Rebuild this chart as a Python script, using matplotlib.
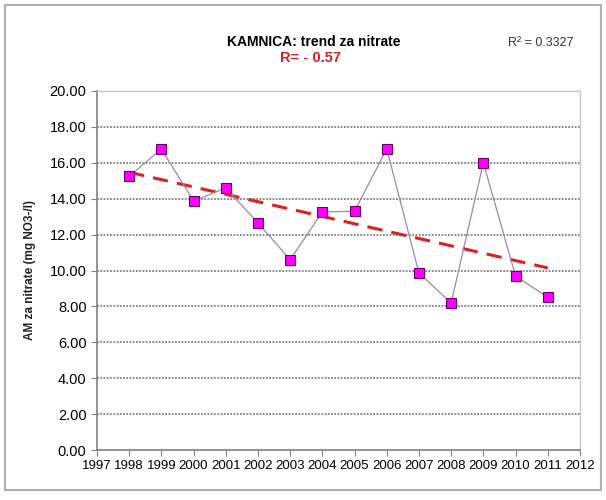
import numpy as np
import matplotlib
matplotlib.use('Agg')
import matplotlib.pyplot as plt
import matplotlib.patches as patches

plt.rcParams['font.family'] = ['Liberation Sans', 'DejaVu Sans']

# data
years = [1998, 1999, 2000, 2001, 2002, 2003, 2004, 2005, 2006, 2007, 2008, 2009, 2010, 2011]
nitrate = [15.25, 16.77, 13.87, 14.6, 12.65, 10.6, 13.26, 13.3, 16.77, 9.86, 8.19, 16.0, 9.7, 8.5]
x_ticks = list(range(1997, 2013))
y_ticks = [0, 2, 4, 6, 8, 10, 12, 14, 16, 18, 20]

title = 'KAMNICA: trend za nitrate'
r_label = 'R= - 0.57'
r2_label = 'R² = 0.3327'
y_label = 'AM za nitrate (mg NO3-/l)'

fig = plt.figure(figsize=(6.06, 5.0), dpi=100)
ax = fig.add_axes([0.160, 0.100, 0.797, 0.718])

# outer chart frame
fig.patches.append(patches.Rectangle((0.008, 0.02), 0.984, 0.97, transform=fig.transFigure,
                                     fill=False, edgecolor='#b0b0b0', linewidth=1.5))

# gridlines
for y in y_ticks[1:]:
    ax.axhline(y, color='#808080', linestyle=(0, (1, 0.8)), linewidth=1.3, zorder=1)

# data series
ax.plot(years, nitrate, color='#9a8aa6', linewidth=0.9, zorder=3,
        marker='s', markersize=7.5, markerfacecolor='#ff00ff',
        markeredgecolor='#660066', markeredgewidth=0.8)

# linear trend
coef = np.polyfit(years, nitrate, 1)
trend_x = np.array([years[0], years[-1]])
ax.plot(trend_x, np.polyval(coef, trend_x), color='#e02020', linestyle=(0, (5, 3)),
        linewidth=2.2, zorder=2)

ax.set_xlim(1997, 2012)
ax.set_ylim(0, 20)
ax.set_xticks(x_ticks)
ax.set_yticks(y_ticks)
ax.set_yticklabels(['%.2f' % v for v in y_ticks])
ax.tick_params(axis='y', labelsize=10.5, direction='out', length=4, color='#808080')
ax.tick_params(axis='x', labelsize=9.5, direction='out', length=4, color='#808080', pad=3)
for side in ['left', 'bottom']:
    ax.spines[side].set_color('#808080')
    ax.spines[side].set_linewidth(1.2)
for side in ['top', 'right']:
    ax.spines[side].set_color('#c8c8c8')
    ax.spines[side].set_linewidth(1.0)

ax.set_ylabel(y_label, fontsize=8.5, fontweight='bold', color='#222222', labelpad=10)

fig.text(0.517, 0.915, title, ha='center', va='center', fontsize=10, fontweight='bold')
fig.text(0.512, 0.883, r_label, ha='center', va='center', fontsize=10.5, fontweight='bold',
         color='#d0202a')
fig.text(0.893, 0.915, r2_label, ha='center', va='center', fontsize=9, color='#333333')

fig.savefig('out.png', dpi=100)
